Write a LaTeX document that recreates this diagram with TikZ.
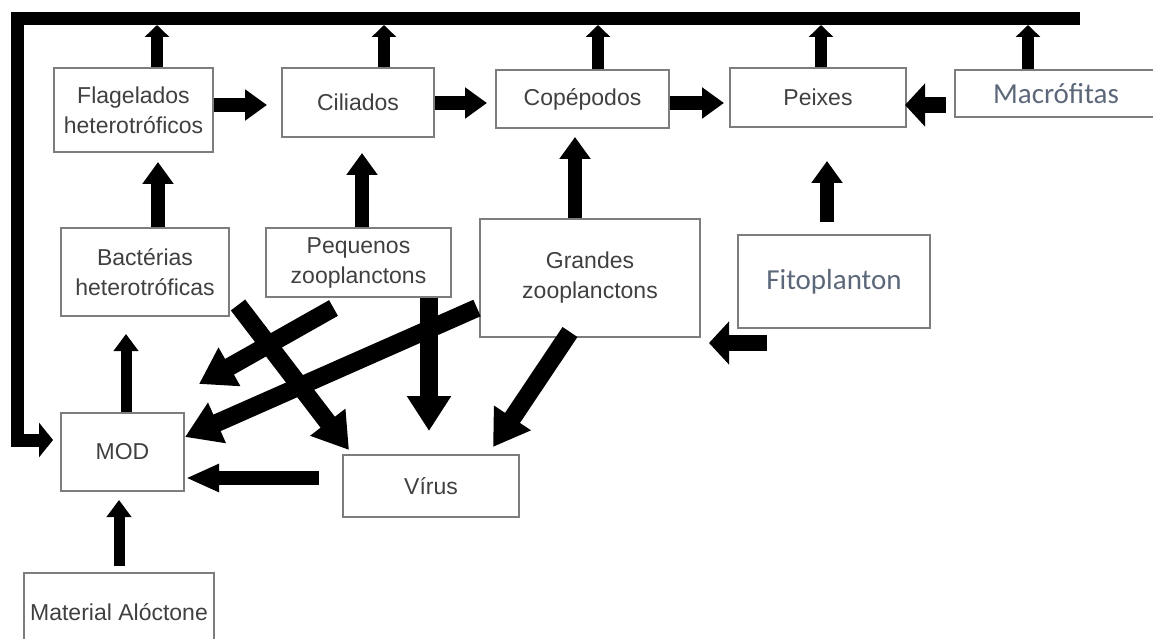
\documentclass[tikz,border=0pt]{standalone}
\usepackage{fontspec}
\setmainfont{Liberation Sans}
\newfontfamily\calfont{Carlito}
\usetikzlibrary{arrows.meta,calc}

\definecolor{slate}{RGB}{92,104,122}
\definecolor{boxgray}{RGB}{125,125,125}

\tikzset{
  box/.style={draw=boxgray, line width=2pt, rectangle, align=center, inner sep=0pt,
    text=black!75, font=\fontsize{23}{30}\selectfont},
  pale/.style={box, text=slate, font=\calfont\fontsize{29}{32}\selectfont},
  up/.style={line width=12pt, -{Triangle[length=12pt,width=24pt]}},
  blk/.style={line width=14pt, -{Triangle[length=22pt,width=30pt]}},
  thin/.style={line width=11pt, -{Triangle[length=17pt,width=24pt]}},
  fat/.style={line width=18pt, -{Triangle[length=35pt,width=42pt]}},
  stub/.style={line width=16pt, -{Triangle[length=20pt,width=42pt]}},
  frame/.style={line width=13pt, line join=miter, -{Triangle[length=14pt,width=34pt]}},
}

\begin{document}
\begin{tikzpicture}[x=1pt,y=-1pt]
\useasboundingbox (0,0) rectangle (1153,639);

% boxes
\node[box, minimum width=159pt, minimum height=84pt] (flag) at (133.5,110) {Flagelados\\heterotróficos};
\node[box, minimum width=152pt, minimum height=69pt] (cil) at (358,102.5) {Ciliados};
\node[box, minimum width=173pt, minimum height=58pt] (cop) at (582.5,99) {Copépodos};
\node[box, minimum width=176pt, minimum height=59pt] (pei) at (818,97.5) {Peixes};
\node[pale, minimum width=202pt, minimum height=47pt] (mac) at (1056,93.5) {Macrófitas};

\node[box, minimum width=168pt, minimum height=88pt] (bac) at (145,272) {Bactérias\\heterotróficas};
\node[box, minimum width=185pt, minimum height=69pt] (peq) at (358.5,262.5) {Pequenos\\zooplanctons};
\node[box, minimum width=220pt, minimum height=118pt] (gra) at (590,278) {Grandes\\zooplanctons};
\node[pale, minimum width=192pt, minimum height=93pt] (fit) at (834,281.5) {Fitoplanton};

\node[box, minimum width=123pt, minimum height=78pt] (mod) at (122.5,452) {MOD};
\node[box, minimum width=176pt, minimum height=62pt] (vir) at (431,486) {Vírus};
\node[box, minimum width=190pt, minimum height=78pt] (mat) at (119,612) {Material Alóctone};

% top line and return to MOD
\coordinate (tr) at (1080,19);
\coordinate (tl) at (17,19);
\draw[frame, shorten >=7pt] (tr) -- (tl) |- ($(mod.west)+(0,-12)$);

% up to the top line
\draw[up] ($(flag.north)+(23.5,0)$) -- ($(flag.north)+(23.5,-42)$);
\draw[up] ($(cil.north)+(26,0)$) -- ($(cil.north)+(26,-42)$);
\draw[up] ($(cop.north)+(15.5,0)$) -- ($(cop.north)+(15.5,-44)$);
\draw[up] ($(pei.north)+(3,0)$) -- ($(pei.north)+(3,-42)$);
\draw[up] ($(mac.north)+(-28,0)$) -- ($(mac.north)+(-28,-44)$);

% top row
\draw[blk, shorten >=14pt] ($(flag.east)+(0,-5)$) -- ($(cil.west)+(0,2.5)$);
\draw[blk, shorten >=8pt] ($(cil.east)+(0,0.5)$) -- ($(cop.west)+(0,4)$);
\draw[blk, shorten >=5pt] ($(cop.east)+(0,4)$) -- ($(pei.west)+(0,5.5)$);
\draw[stub, shorten <=8pt, shorten >=-2pt] ($(mac.west)+(0,11.5)$) -- ($(pei.east)+(0,7.5)$);

% up into the top row
\draw[blk, shorten >=9pt] ($(bac.north)+(13,0)$) -- ($(flag.south)+(24.5,0)$);
\draw[blk, shorten >=15pt] ($(peq.north)+(3.5,0)$) -- ($(cil.south)+(4,0)$);
\draw[blk, shorten >=8pt] ($(gra.north)+(-15,0)$) -- ($(cop.south)+(-7.5,0)$);
\draw[blk, shorten <=12pt, shorten >=33pt] ($(fit.north)+(-7,0)$) -- ($(pei.south)+(9,0)$);

% lower part
\draw[thin, shorten >=17pt] ($(mod.north)+(3.5,0)$) -- ($(bac.south)+(-19,0)$);
\draw[thin, shorten <=6pt, shorten >=8pt] (mat.north) -- (mod.south -| mat.north);
\draw[fat] ($(bac.south east)+(8,-12)$) -- ($(vir.north west)+(7,-4)$);
\draw[fat] ($(peq.south)+(-25,10)$) -- ($(mod.north east)+(14,-28)$);
\draw[fat] ($(gra.west)+(-2,30)$) -- ($(mod.east)+(0,-15)$);
\draw[fat, shorten >=23pt] ($(peq.south)+(70.5,0)$) -- ($(vir.north)+(-2,0)$);
\draw[fat] ($(gra.south)+(-20,-6)$) -- ($(vir.north)+(62,-7)$);
\draw[stub] ($(fit.south west)+(30,14)$) -- ($(gra.south east)+(8,5)$);
\draw[blk, line width=14pt, -{Triangle[length=33pt,width=26pt]}] ($(vir.west)+(-23,-8)$) -- ($(mod.east)+(1,26)$);
\end{tikzpicture}
\end{document}
